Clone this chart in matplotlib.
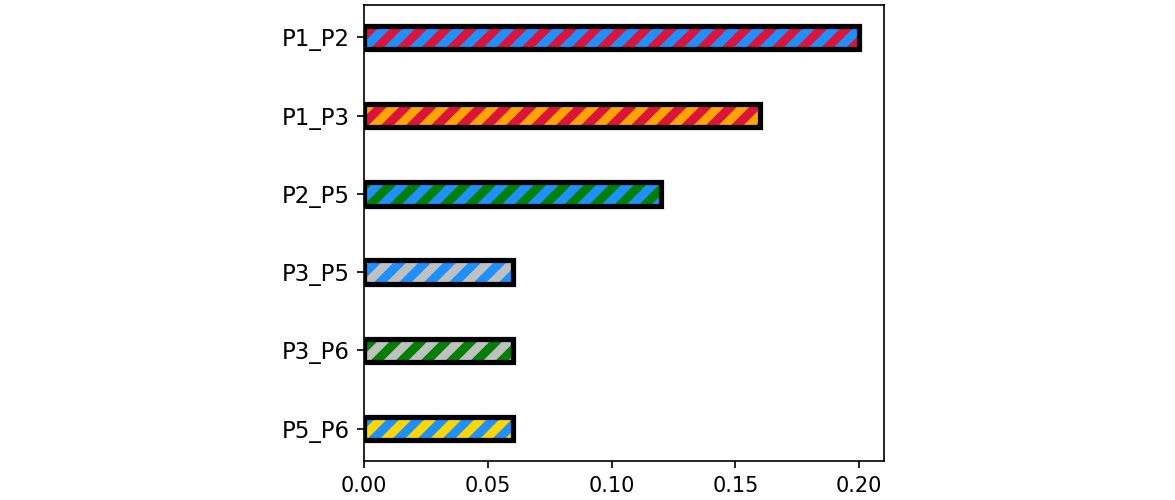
import matplotlib
matplotlib.use("Agg")
import matplotlib.pyplot as plt

# pair names, values and the two stripe colours of each bar
pairs = ["P1_P2", "P1_P3", "P2_P5", "P3_P5", "P3_P6", "P5_P6"]
values = [0.20, 0.16, 0.12, 0.06, 0.06, 0.06]
face_colors = ["dodgerblue", "crimson", "dodgerblue", "dodgerblue", "green", "dodgerblue"]
stripe_colors = ["crimson", "orange", "green", "silver", "silver", "gold"]

plt.rcParams["hatch.linewidth"] = 4.2

fig = plt.figure(figsize=(1175 / 150, 500 / 150), dpi=150)
ax = fig.add_axes([364 / 1175, 1 - 461 / 500, (884 - 364) / 1175, (461 - 5) / 500])

bars = ax.barh(pairs, values, height=0.3, color=face_colors,
               edgecolor="black", linewidth=2.5)
for bar, sc in zip(bars, stripe_colors):
    bar.set_hatch("//")
    bar._hatch_color = matplotlib.colors.to_rgba(sc)

ax.invert_yaxis()
ax.tick_params(axis="y", labelsize=11)

fig.savefig("out.png", dpi=150)
plt.close(fig)
